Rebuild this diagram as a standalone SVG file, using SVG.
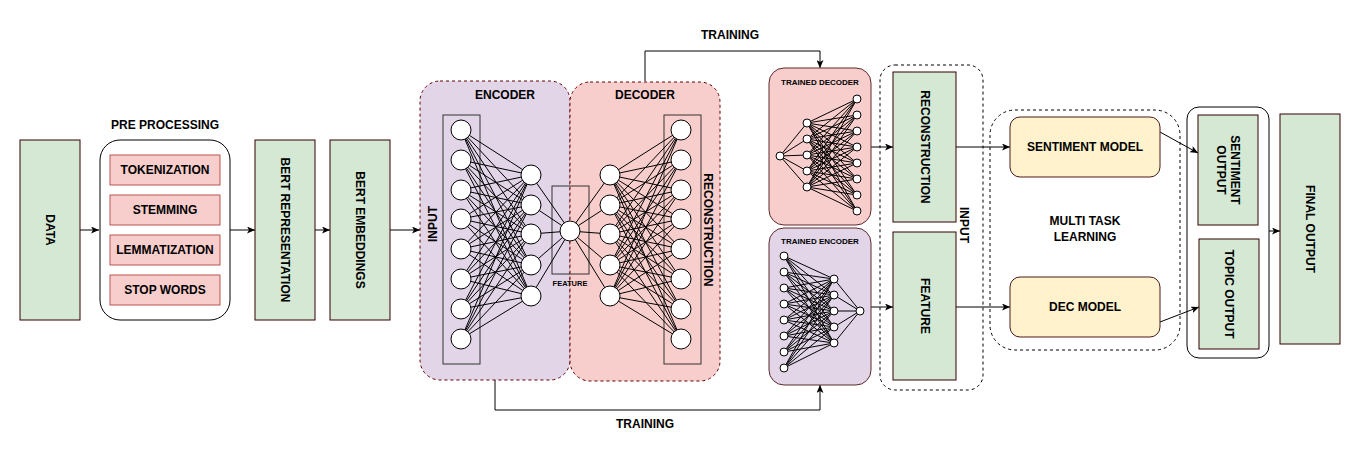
<svg xmlns="http://www.w3.org/2000/svg" width="1361" height="460" viewBox="0 0 1361 460">
<defs>
<style>
text{font-family:"Liberation Sans",Arial,sans-serif;font-weight:bold;fill:#000;text-anchor:middle;dominant-baseline:central}
.t12{font-size:12px}
.t8{font-size:8px}
.t7{font-size:7.5px}
.green{fill:#d5e8d4;stroke:#330000;stroke-width:1}
.pink{fill:#f8cecc;stroke:#b85450;stroke-width:1}
.yellow{fill:#fff2cc;stroke:#4d1a1a;stroke-width:1}
.dash{fill:none;stroke:#000;stroke-width:1;stroke-dasharray:3,3}
.conn{fill:none;stroke:#000;stroke-width:1}
.net{fill:none;stroke:#000;stroke-width:1;stroke-linejoin:round}
.node{fill:#fff;stroke:#000;stroke-width:1}
.frame{fill:none;stroke:#333;stroke-width:1}
</style>
<marker id="arr" viewBox="0 0 8 7" refX="8" refY="3.5" markerWidth="8" markerHeight="7" orient="auto" markerUnits="userSpaceOnUse">
<path d="M0 0L8 3.5L0 7L2 3.5Z" fill="#000"/>
</marker>
</defs>
<rect width="1361" height="460" fill="#fff"/>

<g id="connectors">
<path class="conn" d="M80 230H99" marker-end="url(#arr)"/>
<path class="conn" d="M230 230H255" marker-end="url(#arr)"/>
<path class="conn" d="M315 230H330" marker-end="url(#arr)"/>
<path class="conn" d="M390 230H420" marker-end="url(#arr)"/>
<path class="conn" d="M645 81V51H820V68" marker-end="url(#arr)"/>
<path class="conn" d="M495 380V410H820V385" marker-end="url(#arr)"/>
<path class="conn" d="M871 147H893" marker-end="url(#arr)"/>
<path class="conn" d="M871 307H893" marker-end="url(#arr)"/>
<path class="conn" d="M956 147H1010" marker-end="url(#arr)"/>
<path class="conn" d="M956 307H1010" marker-end="url(#arr)"/>
<path class="conn" d="M1160 132L1198 153" marker-end="url(#arr)"/>
<path class="conn" d="M1160 322L1199 307" marker-end="url(#arr)"/>
<path class="conn" d="M1269 231H1280" marker-end="url(#arr)"/>
<text class="t12" x="730" y="35">TRAINING</text>
<text class="t12" x="645" y="424">TRAINING</text>
</g>

<g id="data">
<rect class="green" x="20" y="140" width="60" height="180"/>
<text class="t12" transform="translate(50 230) rotate(90)">DATA</text>
</g>

<g id="preprocessing">
<text class="t12" x="165" y="125">PRE PROCESSING</text>
<rect x="100" y="140" width="130" height="180" rx="20" fill="#fff" stroke="#000"/>
<g id="tokenization"><rect class="pink" x="110" y="155" width="110" height="30"/><text class="t12" x="165" y="170">TOKENIZATION</text></g>
<g id="stemming"><rect class="pink" x="110" y="195" width="110" height="30"/><text class="t12" x="165" y="210">STEMMING</text></g>
<g id="lemmatization"><rect class="pink" x="110" y="235" width="110" height="30"/><text class="t12" x="165" y="250">LEMMATIZATION</text></g>
<g id="stopwords"><rect class="pink" x="110" y="275" width="110" height="30"/><text class="t12" x="165" y="290">STOP WORDS</text></g>
</g>

<g id="bert-representation">
<rect class="green" x="255" y="140" width="60" height="180"/>
<text class="t12" transform="translate(285 230) rotate(90)">BERT REPRESENTATION</text>
</g>

<g id="bert-embeddings">
<rect class="green" x="330" y="140" width="60" height="180"/>
<text class="t12" transform="translate(360 230) rotate(90)">BERT EMBEDDINGS</text>
</g>

<g id="autoencoder">
<rect x="420" y="81" width="150" height="299" rx="20" fill="#e1d5e7" stroke="#660000" stroke-dasharray="3,3"/>
<rect x="570" y="82" width="150" height="299" rx="20" fill="#f8cecc" stroke="#660000" stroke-dasharray="3,3"/>
<text class="t12" x="505" y="95">ENCODER</text>
<text class="t12" x="645" y="95">DECODER</text>
<rect class="frame" x="443" y="115" width="37" height="249"/>
<rect class="frame" x="552" y="186" width="37" height="88"/>
<rect class="frame" x="664" y="115" width="37" height="249"/>
<text class="t12" transform="translate(433 224) rotate(-90)">INPUT</text>
<text class="t12" transform="translate(708 230) rotate(90)">RECONSTRUCTION</text>
<text class="t7" x="570" y="283">FEATURE</text>
<path class="net" d="M461 130L531 175M461 130L531 205M461 130L531 234M461 130L531 265M461 130L531 296
M461 160L531 175M461 160L531 205M461 160L531 234M461 160L531 265M461 160L531 296
M461 190L531 175M461 190L531 205M461 190L531 234M461 190L531 265M461 190L531 296
M461 219L531 175M461 219L531 205M461 219L531 234M461 219L531 265M461 219L531 296
M461 249L531 175M461 249L531 205M461 249L531 234M461 249L531 265M461 249L531 296
M461 279L531 175M461 279L531 205M461 279L531 234M461 279L531 265M461 279L531 296
M461 309L531 175M461 309L531 205M461 309L531 234M461 309L531 265M461 309L531 296
M461 339L531 175M461 339L531 205M461 339L531 234M461 339L531 265M461 339L531 296
M531 175L570 231M531 205L570 231M531 234L570 231M531 265L570 231M531 296L570 231
M570 231L610 175M570 231L610 205M570 231L610 234M570 231L610 265M570 231L610 296
M610 175L681 130M610 175L681 160M610 175L681 190M610 175L681 219M610 175L681 249M610 175L681 279M610 175L681 309M610 175L681 339
M610 205L681 130M610 205L681 160M610 205L681 190M610 205L681 219M610 205L681 249M610 205L681 279M610 205L681 309M610 205L681 339
M610 234L681 130M610 234L681 160M610 234L681 190M610 234L681 219M610 234L681 249M610 234L681 279M610 234L681 309M610 234L681 339
M610 265L681 130M610 265L681 160M610 265L681 190M610 265L681 219M610 265L681 249M610 265L681 279M610 265L681 309M610 265L681 339
M610 296L681 130M610 296L681 160M610 296L681 190M610 296L681 219M610 296L681 249M610 296L681 279M610 296L681 309M610 296L681 339"/>
<g class="node">
<circle cx="461" cy="130" r="10"/><circle cx="461" cy="160" r="10"/><circle cx="461" cy="190" r="10"/><circle cx="461" cy="219" r="10"/>
<circle cx="461" cy="249" r="10"/><circle cx="461" cy="279" r="10"/><circle cx="461" cy="309" r="10"/><circle cx="461" cy="339" r="10"/>
<circle cx="531" cy="175" r="10"/><circle cx="531" cy="205" r="10"/><circle cx="531" cy="234" r="10"/><circle cx="531" cy="265" r="10"/><circle cx="531" cy="296" r="10"/>
<circle cx="570" cy="231" r="10"/>
<circle cx="610" cy="175" r="10"/><circle cx="610" cy="205" r="10"/><circle cx="610" cy="234" r="10"/><circle cx="610" cy="265" r="10"/><circle cx="610" cy="296" r="10"/>
<circle cx="681" cy="130" r="10"/><circle cx="681" cy="160" r="10"/><circle cx="681" cy="190" r="10"/><circle cx="681" cy="219" r="10"/>
<circle cx="681" cy="249" r="10"/><circle cx="681" cy="279" r="10"/><circle cx="681" cy="309" r="10"/><circle cx="681" cy="339" r="10"/>
</g>
</g>

<g id="trained-decoder">
<rect x="769" y="68" width="102" height="157" rx="15" fill="#f8cecc" stroke="#5c2a2a"/>
<text class="t8" x="820" y="82">TRAINED DECODER</text>
<path class="net" d="M780 156L807 123M780 156L807 139M780 156L807 155M780 156L807 171M780 156L807 187
M807 123L857 99M807 123L857 115M807 123L857 131M807 123L857 147M807 123L857 163M807 123L857 179M807 123L857 195M807 123L857 211
M807 139L857 99M807 139L857 115M807 139L857 131M807 139L857 147M807 139L857 163M807 139L857 179M807 139L857 195M807 139L857 211
M807 155L857 99M807 155L857 115M807 155L857 131M807 155L857 147M807 155L857 163M807 155L857 179M807 155L857 195M807 155L857 211
M807 171L857 99M807 171L857 115M807 171L857 131M807 171L857 147M807 171L857 163M807 171L857 179M807 171L857 195M807 171L857 211
M807 187L857 99M807 187L857 115M807 187L857 131M807 187L857 147M807 187L857 163M807 187L857 179M807 187L857 195M807 187L857 211"/>
<g class="node">
<circle cx="780" cy="156" r="4"/>
<circle cx="807" cy="123" r="4"/><circle cx="807" cy="139" r="4"/><circle cx="807" cy="155" r="4"/><circle cx="807" cy="171" r="4"/><circle cx="807" cy="187" r="4"/>
<circle cx="857" cy="99" r="4"/><circle cx="857" cy="115" r="4"/><circle cx="857" cy="131" r="4"/><circle cx="857" cy="147" r="4"/>
<circle cx="857" cy="163" r="4"/><circle cx="857" cy="179" r="4"/><circle cx="857" cy="195" r="4"/><circle cx="857" cy="211" r="4"/>
</g>
</g>

<g id="trained-encoder">
<rect x="769" y="228" width="102" height="157" rx="15" fill="#e1d5e7" stroke="#5c2a2a"/>
<text class="t8" x="820" y="241">TRAINED ENCODER</text>
<path class="net" d="M784 256L834 279M784 256L834 295M784 256L834 311M784 256L834 327M784 256L834 343
M784 272L834 279M784 272L834 295M784 272L834 311M784 272L834 327M784 272L834 343
M784 288L834 279M784 288L834 295M784 288L834 311M784 288L834 327M784 288L834 343
M784 304L834 279M784 304L834 295M784 304L834 311M784 304L834 327M784 304L834 343
M784 320L834 279M784 320L834 295M784 320L834 311M784 320L834 327M784 320L834 343
M784 336L834 279M784 336L834 295M784 336L834 311M784 336L834 327M784 336L834 343
M784 352L834 279M784 352L834 295M784 352L834 311M784 352L834 327M784 352L834 343
M784 368L834 279M784 368L834 295M784 368L834 311M784 368L834 327M784 368L834 343
M834 279L860 311M834 295L860 311M834 311L860 311M834 327L860 311M834 343L860 311"/>
<g class="node">
<circle cx="784" cy="256" r="4"/><circle cx="784" cy="272" r="4"/><circle cx="784" cy="288" r="4"/><circle cx="784" cy="304" r="4"/>
<circle cx="784" cy="320" r="4"/><circle cx="784" cy="336" r="4"/><circle cx="784" cy="352" r="4"/><circle cx="784" cy="368" r="4"/>
<circle cx="834" cy="279" r="4"/><circle cx="834" cy="295" r="4"/><circle cx="834" cy="311" r="4"/><circle cx="834" cy="327" r="4"/><circle cx="834" cy="343" r="4"/>
<circle cx="860" cy="311" r="4"/>
</g>
</g>

<g id="input-group">
<rect class="dash" x="880" y="65" width="103" height="325" rx="15"/>
<text class="t12" transform="translate(964 225) rotate(90)">INPUT</text>
</g>
<g id="reconstruction">
<rect class="green" x="893" y="72" width="63" height="150"/>
<text class="t12" transform="translate(924.5 147) rotate(90)">RECONSTRUCTION</text>
</g>
<g id="feature">
<rect class="green" x="893" y="232" width="63" height="148"/>
<text class="t12" transform="translate(924.5 306) rotate(90)">FEATURE</text>
</g>

<g id="multi-task">
<rect class="dash" x="990" y="110" width="190" height="240" rx="25"/>
<text class="t12" x="1085" y="221">MULTI TASK</text>
<text class="t12" x="1085" y="237">LEARNING</text>
</g>
<g id="sentiment-model">
<rect class="yellow" x="1010" y="117" width="150" height="60" rx="10"/>
<text class="t12" x="1085" y="147">SENTIMENT MODEL</text>
</g>
<g id="dec-model">
<rect class="yellow" x="1010" y="277" width="150" height="60" rx="10"/>
<text class="t12" x="1085" y="307">DEC MODEL</text>
</g>

<g id="outputs">
<rect x="1187" y="107" width="82" height="251" rx="12" fill="none" stroke="#000"/>
</g>
<g id="sentiment-output">
<rect class="green" x="1198" y="115" width="60" height="110"/>
<text class="t12" transform="translate(1228 170) rotate(90)"><tspan x="0" y="-7">SENTIMENT</tspan><tspan x="0" y="7">OUTPUT</tspan></text>
</g>
<g id="topic-output">
<rect class="green" x="1199" y="239" width="60" height="110"/>
<text class="t12" transform="translate(1229 294) rotate(90)">TOPIC OUTPUT</text>
</g>
<g id="final-output">
<rect class="green" x="1280" y="114" width="60" height="230"/>
<text class="t12" transform="translate(1310 229) rotate(90)">FINAL OUTPUT</text>
</g>
</svg>
